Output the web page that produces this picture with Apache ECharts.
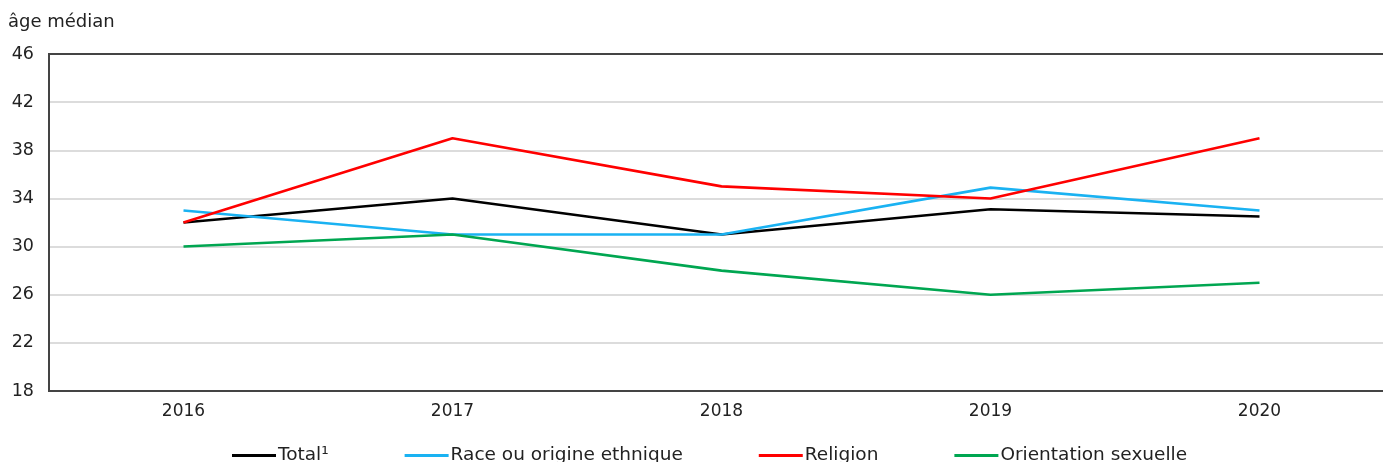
<!DOCTYPE html>
<html>
<head>
<meta charset="utf-8">
<script src="https://cdn.jsdelivr.net/npm/echarts@6/dist/echarts.min.js"></script>
<style>html,body{margin:0;padding:0;background:#fff}#c{width:1383px;height:462px}</style>
</head>
<body>
<div id="c"></div>
<script>
var years = ['2016', '2017', '2018', '2019', '2020'];
var total = [32, 34, 31, 33.1, 32.5];
var race = [33, 31, 31, 34.9, 33];
var religion = [32, 39, 35, 34, 39];
var orientation = [30, 31, 28, 26, 27];
var seriesNames = ['Total¹', 'Race ou origine ethnique', 'Religion', 'Orientation sexuelle'];
var yTicks = [18, 22, 26, 30, 34, 38, 42, 46];

var colors = ['#000000', '#1ab2f2', '#ff0000', '#00a651'];
var dataSets = [total, race, religion, orientation];
var font = 'DejaVu Sans, Verdana, sans-serif';

var chart = echarts.init(document.getElementById('c'));
chart.setOption({
  animation: false,
  title: {
    text: 'âge médian', left: 3, top: 8,
    textStyle: { fontFamily: font, fontSize: 18, fontWeight: 'normal', color: '#222' }
  },
  legend: {
    left: 227, top: 441, itemWidth: 44, itemHeight: 3, itemGap: 76,
    icon: 'rect',
    textStyle: { fontFamily: font, fontSize: 18.5, color: '#222', padding: [0, 0, 0, -3] },
    data: seriesNames
  },
  grid: {
    left: 49, top: 54, width: 1345, height: 337,
    outerBoundsMode: 'none', containLabel: false,
    show: true, borderColor: '#444', borderWidth: 2, z: 10, backgroundColor: 'transparent'
  },
  xAxis: {
    type: 'category', data: years, boundaryGap: true,
    axisLine: { lineStyle: { color: '#333', width: 1.5 } },
    axisTick: { inside: true, length: 6, lineStyle: { color: '#333', width: 1.5 } },
    axisLabel: { fontFamily: font, fontSize: 17, color: '#222', margin: 12 }
  },
  yAxis: {
    type: 'value', min: yTicks[0], max: yTicks[yTicks.length - 1], interval: 4,
    axisLine: { show: false }, axisTick: { show: false },
    axisLabel: { fontFamily: font, fontSize: 17.5, color: '#222', margin: 15 },
    splitLine: { lineStyle: { color: '#dcdcdc', width: 2 } }
  },
  series: dataSets.map(function (d, i) {
    return {
      name: seriesNames[i], type: 'line', data: d,
      symbol: 'none', lineStyle: { width: 2.6, color: colors[i] },
      itemStyle: { color: colors[i] }
    };
  })
});
</script>
</body>
</html>
